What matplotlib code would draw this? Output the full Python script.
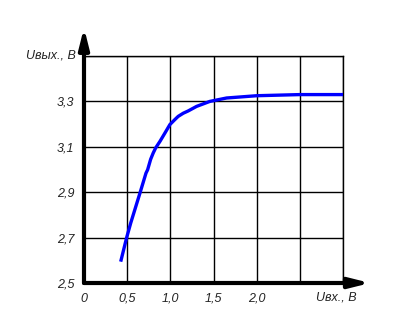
import numpy as np
import matplotlib
matplotlib.use("Agg")
import matplotlib.pyplot as plt

plt.rcParams['font.family'] = ['Liberation Sans', 'DejaVu Sans']

# === Curve data ===
u_in = [0.425, 0.494, 0.541, 0.648, 0.718, 0.737, 0.772, 0.802, 0.830, 0.880,
        0.938, 0.995, 1.050, 1.091, 1.150, 1.207, 1.304, 1.458, 1.652, 2.0,
        2.5, 3.0]
u_out = [2.594, 2.70, 2.764, 2.896, 2.984, 2.999, 3.045, 3.073, 3.095, 3.124,
         3.161, 3.198, 3.219, 3.234, 3.248, 3.258, 3.278, 3.300, 3.315, 3.325,
         3.33, 3.33]

# === Grid / ticks ===
x_ticks = [0, 0.5, 1.0, 1.5, 2.0, 2.5, 3.0]
x_labels = ["0", "0,5", "1,0", "1,5", "2,0", "", ""]
y_ticks = [2.5, 2.7, 2.9, 3.1, 3.3, 3.5]
y_labels = ["2,5", "2,7", "2,9", "3,1", "3,3", ""]
x_name = "Uвх., В"
y_name = "Uвых., В"

fig = plt.figure(figsize=(4.0, 3.34), dpi=100)
ax = fig.add_axes([84 / 400, 1 - 283 / 334, 259 / 400, 227 / 334])

ax.set_xlim(0, 3.0)
ax.set_ylim(2.5, 3.5)
ax.set_xticks(x_ticks)
ax.set_xticklabels(x_labels, fontstyle="italic", fontsize=9)
ax.set_yticks(y_ticks)
ax.set_yticklabels(y_labels, fontstyle="italic", fontsize=9)
ax.tick_params(length=0, pad=7, colors="#222222")
ax.grid(True, color="black", lw=1.0)

for s in ["left", "bottom"]:
    ax.spines[s].set_visible(False)
for s in ["right", "top"]:
    ax.spines[s].set_linewidth(1.0)

ax.plot(u_in, u_out, color="#0000ff", lw=2.4, solid_capstyle="butt",
        solid_joinstyle="round", zorder=3)

# === Axis arrows ===
arr = dict(arrowstyle="-|>,head_length=1.0,head_width=0.25", lw=3, color="black",
           shrinkA=0, shrinkB=0, mutation_scale=12)
ax.annotate("", xy=(0, 1.125), xytext=(0, 0), xycoords="axes fraction",
            arrowprops=arr, annotation_clip=False)
ax.annotate("", xy=(1.105, 0), xytext=(0, 0), xycoords="axes fraction",
            arrowprops=arr, annotation_clip=False)

ax.text(-0.03, 1.0, y_name, transform=ax.transAxes, ha="right", va="center",
        fontstyle="italic", fontsize=9, color="#222222")
ax.text(0.975, -0.063, x_name, transform=ax.transAxes, ha="center", va="center",
        fontstyle="italic", fontsize=9, color="#222222")

fig.savefig("out.png", dpi=100)
